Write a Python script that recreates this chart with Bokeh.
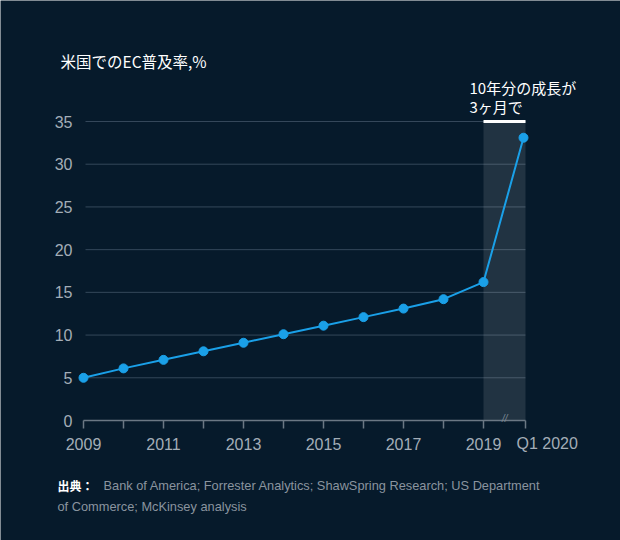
from bokeh.plotting import figure
from bokeh.models import Range1d, BoxAnnotation, ColumnDataSource
from bokeh.core.properties import value
from bokeh.embed import file_html
from bokeh.resources import INLINE

# ---- data ----
periods = ["2009", "2010", "2011", "2012", "2013", "2014", "2015", "2016", "2017", "2018", "2019", "Q1 2020"]
penetration = [5.0, 6.1, 7.1, 8.1, 9.1, 10.1, 11.1, 12.1, 13.1, 14.2, 16.2, 33.1]
y_ticks = [0, 5, 10, 15, 20, 25, 30, 35]
shown_x_labels = ["2009", "2011", "2013", "2015", "2017", "2019"]
title_text = "米国でのEC普及率,%"
note_lines = ["10年分の成長が", "3ヶ月で"]
source_head = "出典："
source_lines = ["Bank of America; Forrester Analytics; ShawSpring Research; US Department",
                "of Commerce; McKinsey analysis"]

idx = list(range(len(periods)))
n = len(idx)
BG = "#061a2b"
GRID = "#34475a"
AXIS = "#6b7884"
TICK_TXT = "#a3adb7"
SRC_TXT = "#8a949f"
BLUE = "#1aa0e8"
JP = value("Noto Sans CJK JP")
LAT = value("Liberation Sans")

# scale: one period = 40px, one percentage point = 299/35 px; whole canvas is the frame
PX_X = 40.0
PX_Y = 299.0 / 35.0
W, H = 620, 540
X0, Y0 = 83, 420   # canvas position of (first period, 0 %)

p = figure(width=W, height=H, output_backend="svg", toolbar_location=None,
           x_axis_location=None, y_axis_location=None,
           x_range=Range1d(-X0 / PX_X, (W - X0) / PX_X),
           y_range=Range1d(-(H - Y0) / PX_Y, Y0 / PX_Y),
           min_border=0)
p.background_fill_color = BG
p.border_fill_color = BG
p.outline_line_color = None
p.grid.visible = False

right_edge = idx[-1] + 0.05
last_year = idx[-2]

# shaded Q1 2020 region
p.add_layout(BoxAnnotation(left=last_year, right=right_edge, bottom=0, top=y_ticks[-1],
                           fill_color="#ffffff", fill_alpha=0.11, line_color=None, level="underlay"))

# gridlines (from tick values)
gy = [t for t in y_ticks if t > 0]
p.segment(x0=[0.05] * len(gy), x1=[right_edge] * len(gy), y0=gy, y1=gy,
          line_color=GRID, line_width=1, level="underlay")

# x axis line and ticks
tick_len = 8 / PX_Y
p.segment(x0=[0], x1=[right_edge], y0=[0], y1=[0], line_color=AXIS, line_width=1.5)
p.segment(x0=idx[:-1] + [right_edge], x1=idx[:-1] + [right_edge], y0=[0] * n, y1=[-tick_len] * n,
          line_color=AXIS, line_width=1.5)

# white bar on top of shaded area
p.segment(x0=[last_year], x1=[right_edge], y0=[y_ticks[-1]], y1=[y_ticks[-1]],
          line_color="white", line_width=3)

# series
src = ColumnDataSource(dict(x=idx, y=penetration))
p.line("x", "y", source=src, line_color=BLUE, line_width=2)
p.scatter("x", "y", source=src, size=9, fill_color=BLUE, line_color=BLUE)

# y tick labels
p.text(x=[-11 / PX_X] * len(y_ticks), y=y_ticks, text=[str(t) for t in y_ticks],
       text_color=TICK_TXT, text_font=LAT, text_font_size="16px",
       text_align="right", text_baseline="middle")

# x tick labels
xl_x = [i for i in idx if periods[i] in shown_x_labels]
xl_t = [periods[i] for i in xl_x]
lab_y = -23 / PX_Y
p.text(x=xl_x, y=[lab_y] * len(xl_x), text=xl_t, text_color=TICK_TXT, text_font=LAT,
       text_font_size="16px", text_align="center", text_baseline="middle")
p.text(x=[idx[-1] - 7 / PX_X], y=[lab_y], text=[periods[-1]], text_color=TICK_TXT, text_font=LAT,
       text_font_size="16px", text_align="left", text_baseline="middle")

# axis break mark
p.text(x=[last_year + 0.53], y=[2 / PX_Y], text=["//"], text_color="#7d8994", text_font=LAT,
       text_font_size="10px", text_font_style="italic", text_align="center", text_baseline="middle")

# title
p.text(x=[(60 - X0) / PX_X], y=[(Y0 - 60) / PX_Y], text=[title_text], text_color="white",
       text_font=JP, text_font_size="15.5px", text_align="left", text_baseline="middle")

# note
p.text(x=[(469 - X0) / PX_X] * 2, y=[(Y0 - 87) / PX_Y, (Y0 - 106) / PX_Y], text=note_lines,
       text_color="white", text_font=JP, text_font_size="15px", text_align="left", text_baseline="middle")

# source
p.text(x=[(57 - X0) / PX_X], y=[(Y0 - 485) / PX_Y], text=[source_head], text_color="white",
       text_font=JP, text_font_size="12px", text_font_style="bold", text_align="left", text_baseline="middle")
p.text(x=[(103 - X0) / PX_X, (57 - X0) / PX_X], y=[(Y0 - 485) / PX_Y, (Y0 - 506) / PX_Y],
       text=source_lines, text_color=SRC_TXT, text_font=LAT, text_font_size="12.8px",
       text_align="left", text_baseline="middle")

open("out.html", "w").write(file_html(p, INLINE))
